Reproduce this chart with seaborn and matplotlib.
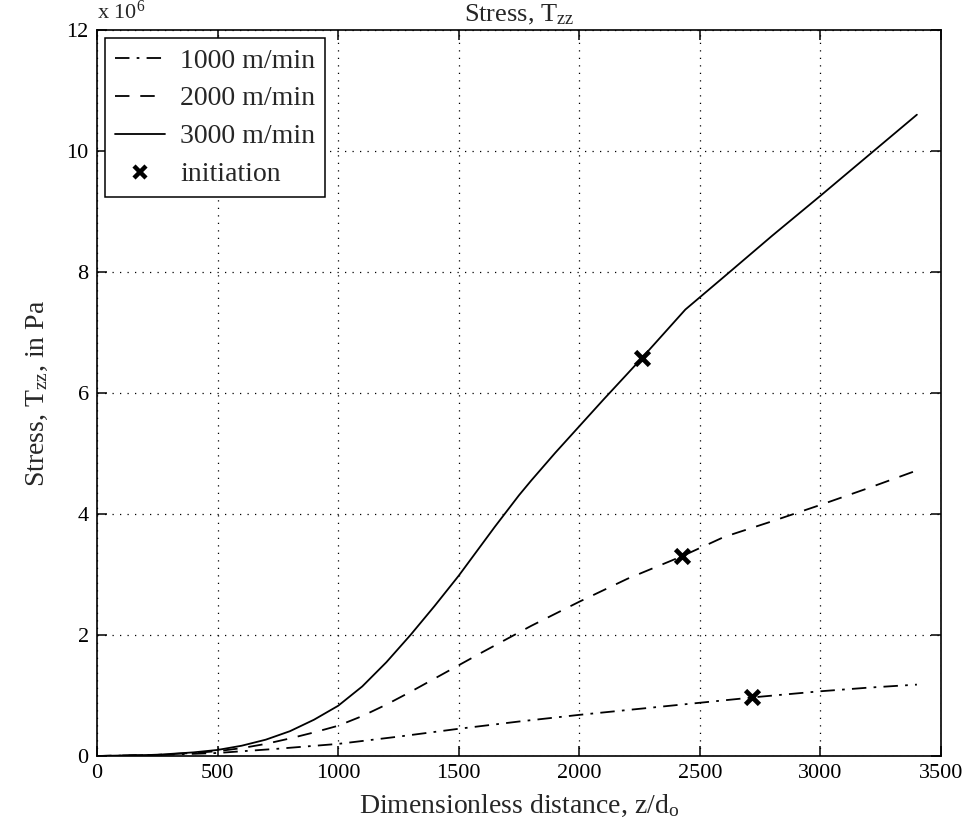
import numpy as np
import pandas as pd
import matplotlib
matplotlib.use("Agg")
import matplotlib.pyplot as plt
from matplotlib.ticker import FuncFormatter, MultipleLocator
from matplotlib.lines import Line2D
import seaborn as sns

sns.set_style("white")
plt.rcParams['font.family'] = ['Liberation Serif', 'DejaVu Serif']
plt.rcParams['mathtext.fontset'] = 'custom'
plt.rcParams['mathtext.rm'] = 'Liberation Serif'
plt.rcParams['mathtext.it'] = 'Liberation Serif:italic'
plt.rcParams['mathtext.default'] = 'regular'

# Data (stress in units of 1e6 Pa)
x1000 = [0, 250, 500, 750, 1000, 1250, 1500, 1750, 2000, 2250, 2500, 2750, 3000, 3200, 3400]
y1000 = [0, 0.015, 0.05, 0.12, 0.20, 0.32, 0.45, 0.57, 0.68, 0.78, 0.88, 0.98, 1.07, 1.13, 1.18]

x2000 = [0, 250, 400, 500, 600, 700, 800, 900, 1000, 1100, 1200, 1300, 1400, 1500, 1600, 1800, 2000, 2200, 2425, 2600, 2800, 3000, 3200, 3400]
y2000 = [0, 0.02, 0.05, 0.08, 0.13, 0.20, 0.29, 0.39, 0.50, 0.66, 0.85, 1.06, 1.28, 1.50, 1.72, 2.15, 2.55, 2.93, 3.30, 3.62, 3.88, 4.15, 4.43, 4.72]

x3000 = [0, 250, 400, 500, 600, 700, 800, 900, 1000, 1100, 1200, 1300, 1400, 1500, 1600, 1650, 1700, 1750, 1800, 1900, 2000, 2100, 2200, 2260, 2350, 2440, 2600, 2800, 3000, 3200, 3400]
y3000 = [0, 0.02, 0.06, 0.10, 0.17, 0.27, 0.41, 0.60, 0.83, 1.15, 1.55, 2.00, 2.48, 2.98, 3.52, 3.79, 4.05, 4.31, 4.55, 5.01, 5.45, 5.89, 6.32, 6.58, 6.98, 7.38, 7.92, 8.60, 9.26, 9.93, 10.60]

x_init = [2715, 2425, 2260]
y_init = [0.97, 3.30, 6.58]

legend_labels = ["1000 m/min", "2000 m/min", "3000 m/min", "initiation"]

SCALE = 1e6

fig = plt.figure(figsize=(9.76, 8.25), dpi=100)
ax = fig.add_axes([97/976, (825-756)/825, (941-97)/976, (756-30)/825])

lw = 1.3
dashdot = (0, (8, 4, 1.5, 4))
dashed = (0, (8, 6))
sns.lineplot(x=x1000, y=np.array(y1000)*SCALE, ax=ax, color='black', lw=lw,
             linestyle=dashdot, sort=False)
sns.lineplot(x=x2000, y=np.array(y2000)*SCALE, ax=ax, color='black', lw=lw,
             linestyle=dashed, sort=False)
sns.lineplot(x=x3000, y=np.array(y3000)*SCALE, ax=ax, color='black', lw=lw,
             linestyle='-', sort=False)
sns.scatterplot(x=x_init, y=np.array(y_init)*SCALE, ax=ax, marker='x', s=100,
                color='black', linewidth=3.4, zorder=5)

ax.set_xlim(0, 3500)
ax.set_ylim(0, 12e6)
ax.xaxis.set_major_locator(MultipleLocator(500))
ax.yaxis.set_major_locator(MultipleLocator(2e6))
ax.yaxis.set_major_formatter(FuncFormatter(lambda v, p: f"{v/SCALE:g}"))

ax.grid(True, linestyle=(0, (1, 5)), color='black', linewidth=0.9)
for s in ax.spines.values():
    s.set_visible(True)
    s.set_color('black')
    s.set_linewidth(1.2)
ax.tick_params(direction='in', length=7, width=1.1, labelsize=16, colors='black',
               top=True, right=True, bottom=True, left=True, pad=6)

ax.set_title("Stress, T$_{zz}$", fontsize=19, pad=6)
ax.set_xlabel("Dimensionless distance, z/d$_{o}$", fontsize=20, labelpad=7)
ax.set_ylabel("Stress, T$_{zz}$, in Pa", fontsize=20, labelpad=12)
ax.text(0.0, 1.008, "x 10$^{6}$", transform=ax.transAxes, fontsize=16,
        ha='left', va='bottom')

handles = [
    Line2D([], [], color='black', lw=lw, linestyle=dashdot),
    Line2D([], [], color='black', lw=lw, linestyle=dashed),
    Line2D([], [], color='black', lw=lw, linestyle='-'),
    Line2D([], [], color='black', marker='x', linestyle='none', markersize=9, markeredgewidth=3.2),
]
leg = ax.legend(handles, legend_labels, loc='upper left', fontsize=20,
                frameon=True, fancybox=False, edgecolor='black', framealpha=1,
                handlelength=1.8, borderaxespad=0.3, labelspacing=0.45,
                handletextpad=0.55, borderpad=0.35)
leg.get_frame().set_linewidth(1.1)

fig.savefig("out.png", dpi=100, facecolor='white')
